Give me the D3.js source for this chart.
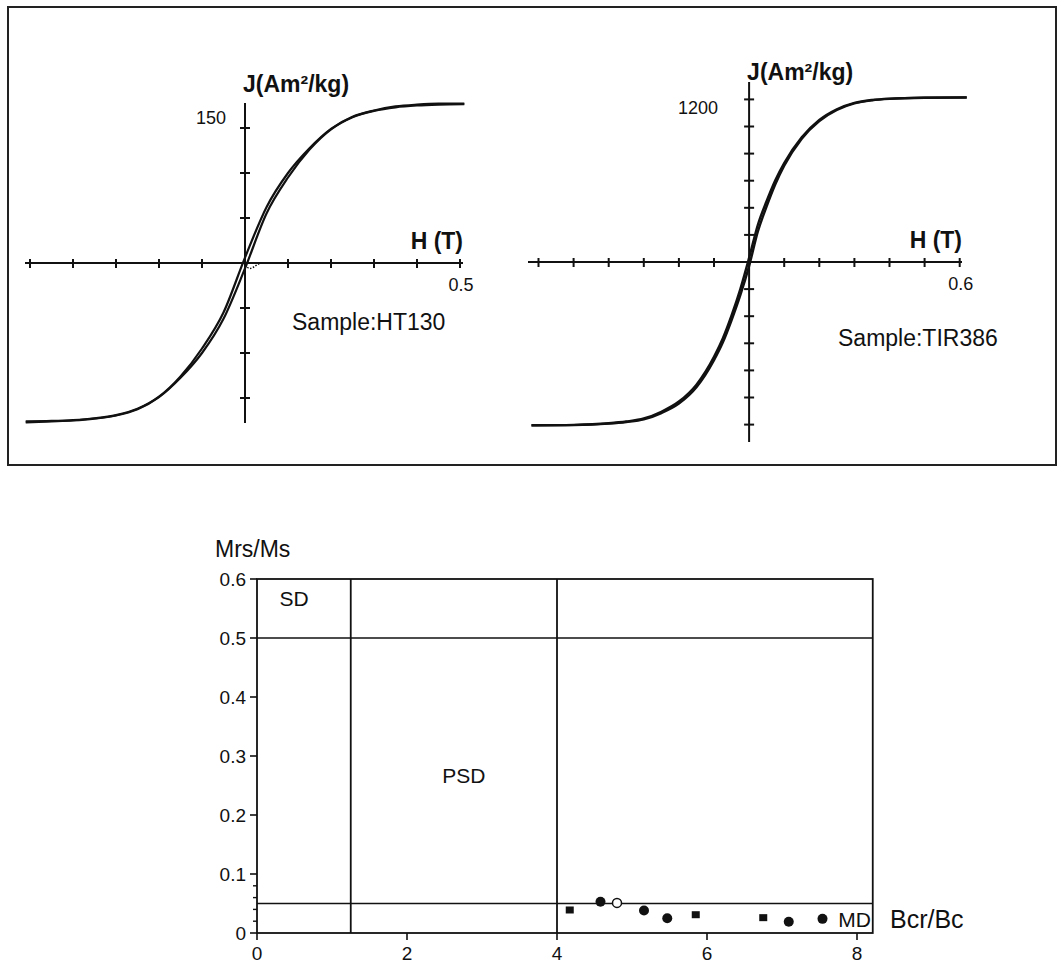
<!DOCTYPE html>
<html>
<head>
<meta charset="utf-8">
<script src="https://cdn.jsdelivr.net/npm/d3@7"></script>
<style>
  html, body { margin: 0; padding: 0; background: #fff; }
  svg { display: block; font-family: "Liberation Sans", Arial, Helvetica, sans-serif; }
</style>
</head>
<body>
<svg id="chart" width="1062" height="969"></svg>
<script>
// ---------- DATA ----------
// Sample HT130 hysteresis loop (H in T, J in Am²/kg)
const htH    = [-0.51,-0.45,-0.4,-0.35,-0.3,-0.25,-0.2,-0.15,-0.1,-0.05,0,0.05,0.1,0.15,0.2,0.25,0.3,0.35,0.4,0.45,0.51];
const htDesc = [-176,-175.5,-174.5,-172.5,-169,-162,-148.5,-126,-95,-55,6,62,100,127.5,149,162.5,169.5,174,176,177,177];
const htAsc  = [-177,-176,-175,-173,-169.5,-162.5,-149,-127.5,-100,-62,-6,55,95,126,148.5,162,169,173,175,176,176.5];
const htInitH = [0.001,0.006,0.012,0.018,0.025,0.032,0.04];
const htInitJ = [-2,-5,-6,-5,-3,-1,0];
const htXTicks = [-0.5,-0.4,-0.3,-0.2,-0.1,0.1,0.2,0.3,0.4,0.5];
const htYTicks = [-150,-100,-50,50,100,150];

// Sample TIR386 hysteresis loop
const tirH    = [-0.62,-0.5,-0.4,-0.35,-0.3,-0.25,-0.2,-0.15,-0.1,-0.075,-0.05,-0.025,0,0.025,0.05,0.075,0.1,0.15,0.2,0.25,0.3,0.35,0.4,0.5,0.62];
const tirDesc = [-1205,-1202,-1190,-1177,-1155,-1105,-1030,-905,-700,-565,-395,-200,30,275,450,605,730,920,1048,1127,1174,1196,1206,1213,1215];
const tirAsc  = [-1206,-1204,-1193,-1181,-1162,-1115,-1045,-925,-725,-595,-430,-245,-30,225,410,575,710,910,1040,1122,1170,1193,1204,1212,1214];
const tirXTicks = [-0.6,-0.5,-0.4,-0.3,-0.2,-0.1,0.1,0.2,0.3,0.4,0.5,0.6];
const tirYTicks = [-1200,-1000,-800,-600,-400,-200,200,400,600,800,1000,1200];

// Day plot
const dayXTicks = [0,2,4,6,8];
const dayYTicks = [0,0.1,0.2,0.3,0.4,0.5,0.6];
const dayYMinor = [0.02,0.04,0.06,0.08];
const dayVLines = [1.25,4];
const dayHLines = [0.5,0.05];
const squaresX = [4.17,5.85,6.75];
const squaresY = [0.039,0.031,0.026];
const filledX = [4.58,5.16,5.47,7.09,7.54];
const filledY = [0.053,0.038,0.025,0.019,0.024];
const openX = [4.80];
const openY = [0.051];
const regionLabels = ["SD","PSD","MD"];
const regionX = [0.3,2.47,7.75];
const regionY = [0.555,0.255,0.010];

// ---------- DRAW ----------
const svg = d3.select("#chart");
const ink = "#111";

// top frame
svg.append("rect").attr("x",8).attr("y",7).attr("width",1048).attr("height",458)
  .attr("fill","none").attr("stroke","#222").attr("stroke-width",2);

function loopPanel(o){
  const g = svg.append("g");
  const x = d3.scaleLinear().domain(o.xDom).range(o.xRange);
  const y = d3.scaleLinear().domain(o.yDom).range(o.yRange);
  const x0 = x(0), y0 = y(0);
  g.append("line").attr("x1",o.hAxis[0]).attr("x2",o.hAxis[1]).attr("y1",y0).attr("y2",y0)
    .attr("stroke",ink).attr("stroke-width",2);
  g.append("line").attr("x1",x0).attr("x2",x0).attr("y1",o.vAxis[0]).attr("y2",o.vAxis[1])
    .attr("stroke",ink).attr("stroke-width",2);
  g.selectAll(".xt").data(o.xTicks).join("line")
    .attr("x1",d=>x(d)).attr("x2",d=>x(d)).attr("y1",y0-4).attr("y2",y0+5)
    .attr("stroke",ink).attr("stroke-width",2);
  g.selectAll(".yt").data(o.yTicks).join("line")
    .attr("x1",x0-5).attr("x2",x0+5).attr("y1",d=>y(d)).attr("y2",d=>y(d))
    .attr("stroke",ink).attr("stroke-width",2);
  const line = d3.line().x(d=>x(d[0])).y(d=>y(d[1])).curve(d3.curveMonotoneX);
  [o.desc,o.asc].forEach(J=>{
    g.append("path").attr("d",line(o.H.map((h,i)=>[h,J[i]])))
      .attr("fill","none").attr("stroke",ink).attr("stroke-width",o.cw);
  });
  if(o.initH){
    g.append("path").attr("d",line(o.initH.map((h,i)=>[h,o.initJ[i]])))
      .attr("fill","none").attr("stroke",ink).attr("stroke-width",1.5).attr("stroke-dasharray","1.5,1.5");
  }
  g.append("text").attr("x",x0-2).attr("y",o.jY).attr("font-size",23).attr("font-weight","bold")
    .attr("fill",ink).text("J(Am²/kg)");
  g.append("text").attr("x",x0-o.tickLabDx).attr("y",o.tickLabY).attr("text-anchor","end")
    .attr("font-size",18).attr("fill",ink).text(o.topTick);
  g.append("text").attr("x",o.hX).attr("y",y0-14).attr("text-anchor","end").attr("font-size",23)
    .attr("font-weight","bold").attr("fill",ink).text("H (T)");
  g.append("text").attr("x",x(o.endTick)+1).attr("y",y0+28).attr("text-anchor","middle")
    .attr("font-size",18).attr("fill",ink).text(o.endTick);
  g.append("text").attr("x",o.sX).attr("y",o.sY).attr("font-size",23).attr("fill",ink).text(o.sample);
}

loopPanel({xDom:[-0.5,0.5], xRange:[30,460], yDom:[0,150], yRange:[263,128],
  hAxis:[25,463], vAxis:[103,423], xTicks:htXTicks, yTicks:htYTicks,
  H:htH, desc:htDesc, asc:htAsc, initH:htInitH, initJ:htInitJ, cw:2.2,
  jY:92, topTick:150, tickLabDx:19, tickLabY:124, hX:463, endTick:0.5, sX:292, sY:330, sample:"Sample:HT130"});

loopPanel({xDom:[-0.6,0.6], xRange:[538.5,959.7], yDom:[0,1200], yRange:[262,99.4],
  hAxis:[528,962], vAxis:[82,442], xTicks:tirXTicks, yTicks:tirYTicks,
  H:tirH, desc:tirDesc, asc:tirAsc, cw:2.4,
  jY:80, topTick:1200, tickLabDx:31, tickLabY:114, hX:962, endTick:0.6, sX:838, sY:346, sample:"Sample:TIR386"});

// Day plot
const dx = d3.scaleLinear().domain([0,8]).range([257,857]);
const dy = d3.scaleLinear().domain([0,0.6]).range([933,579]);
const dg = svg.append("g");
const xMaxFrame = 8.21;
dg.append("rect").attr("x",dx(0)).attr("y",dy(0.6)).attr("width",dx(xMaxFrame)-dx(0)).attr("height",dy(0)-dy(0.6))
  .attr("fill","none").attr("stroke",ink).attr("stroke-width",1.8);
dayVLines.forEach(v=>dg.append("line").attr("x1",dx(v)).attr("x2",dx(v)).attr("y1",dy(0.6)).attr("y2",dy(0))
  .attr("stroke",ink).attr("stroke-width",1.8));
dayHLines.forEach(v=>dg.append("line").attr("x1",dx(0)).attr("x2",dx(xMaxFrame)).attr("y1",dy(v)).attr("y2",dy(v))
  .attr("stroke",ink).attr("stroke-width",1.6));
dg.selectAll(".dyt").data(dayYTicks).join("line").attr("x1",dx(0)-7).attr("x2",dx(0))
  .attr("y1",d=>dy(d)).attr("y2",d=>dy(d)).attr("stroke",ink).attr("stroke-width",1.6);
dg.selectAll(".dym").data(dayYMinor).join("line").attr("x1",dx(0)-4).attr("x2",dx(0))
  .attr("y1",d=>dy(d)).attr("y2",d=>dy(d)).attr("stroke",ink).attr("stroke-width",1.4);
dg.selectAll(".dyl").data(dayYTicks).join("text").attr("x",dx(0)-11).attr("y",d=>dy(d)+7)
  .attr("text-anchor","end").attr("font-size",19).attr("fill",ink).text(d=>d===0?"0":d3.format(".1f")(d));
dg.selectAll(".dxt").data(dayXTicks).join("line").attr("x1",d=>dx(d)).attr("x2",d=>dx(d))
  .attr("y1",dy(0)).attr("y2",dy(0)+7).attr("stroke",ink).attr("stroke-width",1.6);
dg.selectAll(".dxl").data(dayXTicks).join("text").attr("x",d=>dx(d)).attr("y",dy(0)+27)
  .attr("text-anchor","middle").attr("font-size",19).attr("fill",ink).text(d=>d);
dg.append("text").attr("x",215).attr("y",557).attr("font-size",23).attr("fill",ink).text("Mrs/Ms");
dg.append("text").attr("x",890).attr("y",928).attr("font-size",25).attr("fill",ink).text("Bcr/Bc");
dg.selectAll(".rl").data(regionLabels).join("text").attr("x",(d,i)=>dx(regionX[i])).attr("y",(d,i)=>dy(regionY[i]))
  .attr("font-size",21).attr("fill",ink).text(d=>d);
dg.selectAll(".sq").data(squaresX).join("rect").attr("x",(d)=>dx(d)-4).attr("y",(d,i)=>dy(squaresY[i])-3.5)
  .attr("width",8).attr("height",7).attr("fill",ink);
dg.selectAll(".fc").data(filledX).join("circle").attr("cx",d=>dx(d)).attr("cy",(d,i)=>dy(filledY[i]))
  .attr("r",5).attr("fill",ink);
dg.selectAll(".oc").data(openX).join("circle").attr("cx",d=>dx(d)).attr("cy",(d,i)=>dy(openY[i]))
  .attr("r",4.5).attr("fill","#fff").attr("stroke",ink).attr("stroke-width",1.5);
</script>
</body>
</html>
